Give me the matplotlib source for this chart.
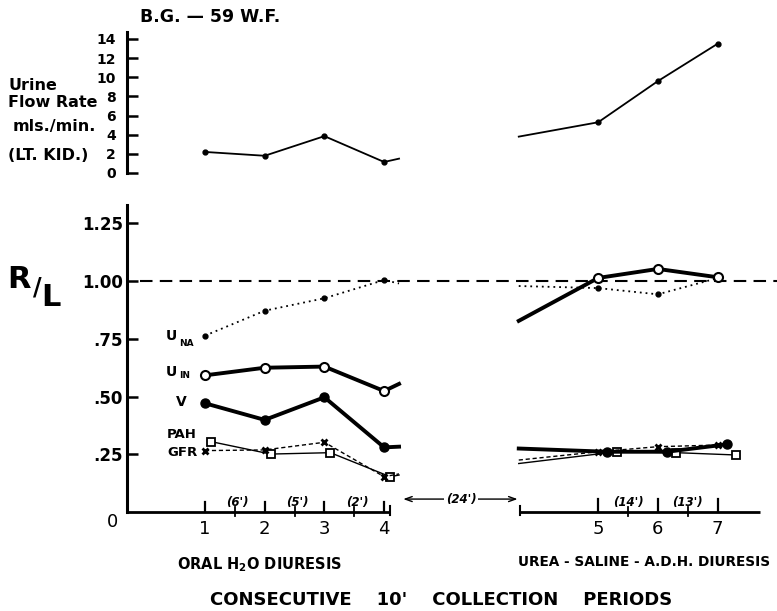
import matplotlib
matplotlib.use("Agg")
import matplotlib.pyplot as plt
import numpy as np

W, H = 777, 611

# collection periods: oral water diuresis (1-4) and urea-saline-ADH diuresis (5-7)
periods_oral = [1, 2, 3, 4]
periods_urea = [5, 6, 7]
interval_labels_oral = ["(6')", "(5')", "(2')"]
interval_labels_urea = ["(14')", "(13')"]
gap_label = "(24')"

# urine flow rate, left kidney (mls./min.)
flow_oral = [2.2, 1.8, 3.85, 1.15]
flow_urea = [5.3, 9.6, 13.5]
flow_edges = [1.5, 3.8]          # line ends either side of the 24' break

# right / left kidney ratios
una_oral = [0.764, 0.872, 0.926, 1.005]
una_urea = [0.970, 0.943, 1.013]
una_edges = [0.99, 0.979]

uin_oral = [0.592, 0.625, 0.630, 0.524]
uin_urea = [1.014, 1.053, 1.017]
uin_edges = [0.555, 0.828]

v_oral = [0.471, 0.399, 0.497, 0.280]
v_urea = [0.261, 0.261, 0.293]
v_edges = [0.283, 0.275]

pah_oral = [0.305, 0.251, 0.257, 0.153]
pah_urea = [0.261, 0.257, 0.247]
pah_edges = [0.16, 0.21]

gfr_oral = [0.266, 0.269, 0.302, 0.153]
gfr_urea = [0.261, 0.283, 0.290]
gfr_edges = [0.165, 0.225]

flow_ticks = [0, 2, 4, 6, 8, 10, 12, 14]
ratio_ticks = [0.25, 0.50, 0.75, 1.00, 1.25]
ratio_ticklabels = [".25", ".50", ".75", "1.00", "1.25"]

# axis geometry (period units along x)
GAP = 2.585
XMIN, XMAX = -0.306, 10.58
EDGE_L = 4.25
x_oral = np.array(periods_oral, float)
x_urea = np.array(periods_urea, float) + GAP
EDGE_R = x_urea[0] - 1.33

plt.rcParams['font.family'] = ['DejaVu Sans']
fig = plt.figure(figsize=(W / 100, H / 100), dpi=100)

def fx(x):
    return x / W

def fy(y):
    return 1 - y / H

ax_top = fig.add_axes([fx(127), fy(173), fx(777) - fx(127), fy(32) - fy(173)])
ax = fig.add_axes([fx(127), fy(512), fx(777) - fx(127), fy(205) - fy(512)])

for a in (ax_top, ax):
    a.set_xlim(XMIN, XMAX)
    a.patch.set_alpha(0)
    for s in ("top", "right", "bottom"):
        a.spines[s].set_visible(False)
    a.spines["left"].set_linewidth(2.2)
    a.set_xticks([])
    a.tick_params(axis="y", direction="in", length=8, width=1.8)

ax_top.set_ylim(0, 14.73)
ax_top.set_yticks(flow_ticks)
ax_top.set_yticklabels([str(t) for t in flow_ticks], fontsize=10, fontweight="bold")
ax_top.tick_params(axis="y", pad=8)

ax.set_ylim(0, 1.33)
ax.set_yticks(ratio_ticks)
ax.set_yticklabels(ratio_ticklabels, fontsize=12, fontweight="bold")
ax.tick_params(axis="y", pad=3)


def draw_series(a, oral, urea, edges, dx_oral=0.0, dx_urea=0.0, **style):
    xl = list(x_oral + dx_oral) + [EDGE_L]
    yl = list(oral) + [edges[0]]
    a.plot(xl, yl, markevery=list(range(len(oral))), clip_on=False, **style)
    xr = [EDGE_R] + list(x_urea + dx_urea)
    yr = [edges[1]] + list(urea)
    a.plot(xr, yr, markevery=list(range(1, len(urea) + 1)), clip_on=False, **style)


# urine flow
draw_series(ax_top, flow_oral, flow_urea, flow_edges,
            color="black", lw=1.3, marker="o", ms=3.5)

# reference line R/L = 1
ax.plot([-0.09, XMAX], [1.0, 1.0], color="black", lw=1.5, dashes=(6, 3.5), zorder=1)

draw_series(ax, una_oral, una_urea, una_edges,
            color="black", lw=1.3, ls=(0, (1, 2.2)), marker="o", ms=3.5, zorder=3)
draw_series(ax, uin_oral, uin_urea, uin_edges,
            color="black", lw=2.8, marker="o", ms=6.5, mfc="white", mew=1.5, zorder=4)
draw_series(ax, v_oral, v_urea, v_edges, dx_urea=0.15,
            color="black", lw=2.8, marker="o", ms=6.5, zorder=4)
draw_series(ax, pah_oral, pah_urea, pah_edges, dx_oral=0.1, dx_urea=0.31,
            color="black", lw=1.0, marker="s", ms=6, mfc="white", mew=1.3, zorder=3)
draw_series(ax, gfr_oral, gfr_urea, gfr_edges,
            color="black", lw=1.0, ls=(0, (3, 2)), marker="x", ms=5, mew=2, zorder=3)

# broken time axis along the bottom
base_kw = dict(color="black", lw=2, clip_on=False, solid_capstyle="butt")
ax.plot([XMIN, 4.1], [0, 0], **base_kw)
ax.plot([EDGE_R + 0.02, 10.3], [0, 0], **base_kw)
ax.plot([4.1, 4.1], [-0.015, 0.025], color="black", lw=1.5, clip_on=False)
ax.plot([EDGE_R + 0.02] * 2, [-0.015, 0.025], color="black", lw=1.5, clip_on=False)
for x in x_oral:
    ax.plot([x, x], [0, 0.045], color="black", lw=1.6, clip_on=False)
for x in x_urea:
    ax.plot([x, x], [0, 0.058], color="black", lw=1.6, clip_on=False)
mids_oral = (x_oral[:-1] + x_oral[1:]) / 2
mids_urea = (x_urea[:-1] + x_urea[1:]) / 2
for x in list(mids_oral) + list(mids_urea):
    ax.plot([x, x], [-0.018, 0.02], color="black", lw=1.3, clip_on=False)

for x, lab in zip(mids_oral, interval_labels_oral):
    ax.text(x + 0.05, 0.043, lab, ha="center", va="center", fontsize=8.5,
            style="italic", fontweight="bold")
for x, lab in zip(mids_urea, interval_labels_urea):
    ax.text(x, 0.043, lab, ha="center", va="center", fontsize=8.5,
            style="italic", fontweight="bold")

ax.annotate("", xy=(4.32, 0.056), xytext=(EDGE_R - 0.02, 0.056),
            arrowprops=dict(arrowstyle="<->,head_length=0.5,head_width=0.18",
                            lw=1.0, color="black", shrinkA=0, shrinkB=0))
ax.text((4.32 + EDGE_R) / 2, 0.056, gap_label, ha="center", va="center", fontsize=8.5,
        style="italic", fontweight="bold",
        bbox=dict(boxstyle="square,pad=0.15", fc="white", ec="none"))

for x, p in zip(list(x_oral) + list(x_urea), periods_oral + periods_urea):
    ax.text(x, -0.075, str(p), ha="center", va="center", fontsize=13)

# text around the plot
txt = dict(color="black")
fig.text(fx(112), fy(522), "0", ha="center", va="center", fontsize=13, **txt)
fig.text(fx(140), fy(17), "B.G. \u2014 59 W.F.", ha="left", va="center",
         fontsize=12.5, fontweight="bold", **txt)
fig.text(fx(8), fy(86), "Urine", ha="left", va="center", fontsize=11.5, fontweight="bold", **txt)
fig.text(fx(8), fy(103), "Flow Rate", ha="left", va="center", fontsize=11.5, fontweight="bold", **txt)
fig.text(fx(13), fy(126), "mls./min.", ha="left", va="center", fontsize=11.5, fontweight="bold", **txt)
fig.text(fx(8), fy(155), "(LT. KID.)", ha="left", va="center", fontsize=11.5, fontweight="bold", **txt)

fig.text(fx(19), fy(279), "R", ha="center", va="center", fontsize=22, fontweight="bold", **txt)
fig.text(fx(37), fy(288), "/", ha="center", va="center", fontsize=17, fontweight="bold", **txt)
fig.text(fx(51), fy(297), "L", ha="center", va="center", fontsize=22, fontweight="bold", **txt)

fig.text(fx(171), fy(336), "U", ha="center", va="center", fontsize=10, fontweight="bold", **txt)
fig.text(fx(186), fy(343), "NA", ha="center", va="center", fontsize=6.5, fontweight="bold", **txt)
fig.text(fx(171), fy(372), "U", ha="center", va="center", fontsize=10, fontweight="bold", **txt)
fig.text(fx(185), fy(376), "IN", ha="center", va="center", fontsize=6.5, fontweight="bold", **txt)
fig.text(fx(181), fy(402), "V", ha="center", va="center", fontsize=10, fontweight="bold", **txt)
fig.text(fx(182), fy(434), "PAH", ha="center", va="center", fontsize=9.5, fontweight="bold", **txt)
fig.text(fx(182), fy(453), "GFR", ha="center", va="center", fontsize=9.5, fontweight="bold", **txt)

fig.text(fx(260), fy(565), r"ORAL H$_\mathbf{2}$O DIURESIS", ha="center", va="center",
         fontsize=10.5, fontweight="bold", **txt)
fig.text(fx(644), fy(562), "UREA - SALINE - A.D.H. DIURESIS", ha="center", va="center",
         fontsize=9.8, fontweight="bold", **txt)
fig.text(fx(441), fy(600), "CONSECUTIVE    10'    COLLECTION    PERIODS", ha="center",
         va="center", fontsize=13, fontweight="bold", **txt)

fig.savefig("out.png", dpi=100)
